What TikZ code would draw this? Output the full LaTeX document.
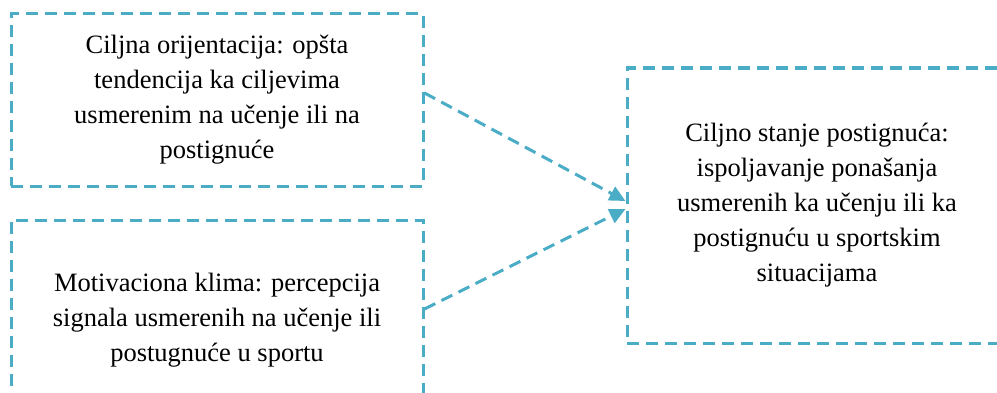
\documentclass[tikz,border=0pt]{standalone}
\usepackage{fontspec}
\setmainfont{Liberation Serif}
\usetikzlibrary{arrows.meta,calc}
\definecolor{boxblue}{HTML}{4BACC6}
\begin{document}
\begin{tikzpicture}[x=1pt,y=1pt,
  box/.style={draw=boxblue, line width=3pt, dash pattern=on 12pt off 7pt,
    align=center, font=\fontsize{26.5}{35}\selectfont, inner sep=0pt},
  link/.style={draw=boxblue, line width=3pt, dash pattern=on 12pt off 7pt,
    -{Triangle[length=16pt,width=15pt]}}]
\useasboundingbox (0,0) rectangle (997,392);
\clip (0,0) rectangle (997,392);
\node[box, minimum width=412pt, minimum height=172pt] (tl) at (217,292)
  {Ciljna orijentacija: opšta\\tendencija ka ciljevima\\usmerenim na učenje ili na\\postignuće};
\node[box, minimum width=412pt, minimum height=200pt] (bl) at (217,72)
  {Motivaciona klima: percepcija\\signala usmerenih na učenje ili\\postugnuće u sportu};
\node[box, minimum width=380pt, minimum height=275pt] (rb) at (817,186.5)
  {Ciljno stanje postignuća:\\ispoljavanje ponašanja\\usmerenih ka učenju ili ka\\postignuću u sportskim\\situacijama};
\draw[link] ($(tl.east)+(0,7)$) -- ($(rb.west)+(0,4.5)$);
\draw[link] ($(bl.east)+(0,11)$) -- ($(rb.west)+(0,-3.5)$);
\end{tikzpicture}
\end{document}
